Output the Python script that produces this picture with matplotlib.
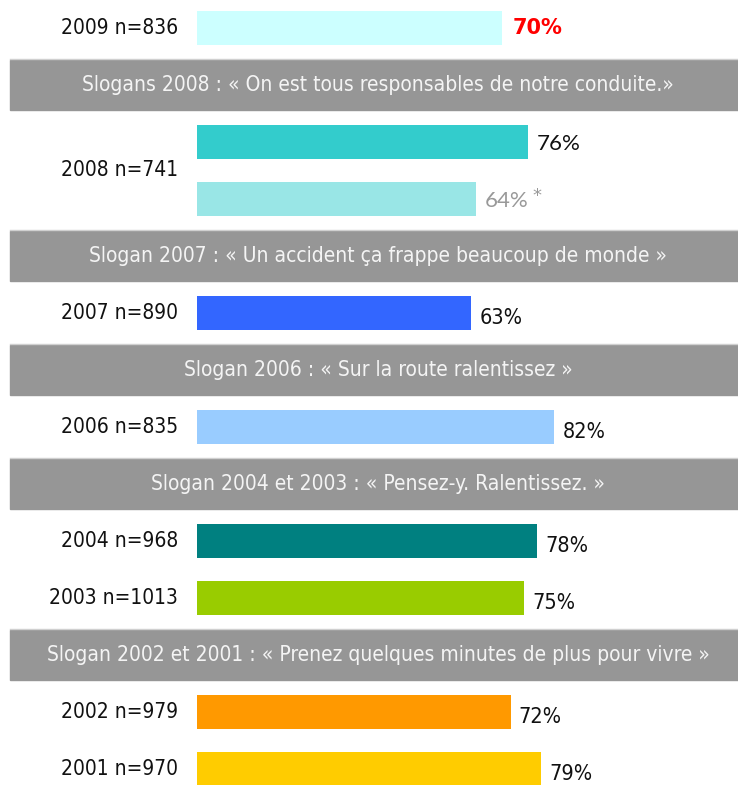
import matplotlib.pyplot as plt
from matplotlib import font_manager

# values (percent)
bar_values = [70, 76, 64, 63, 82, 78, 75, 72, 79]
bar_colors = ["#ccffff", "#33cccc", "#99e6e6", "#3366ff", "#99ccff",
              "#008080", "#99cc00", "#ff9900", "#ffcc00"]
year_labels = ["2009 n=836", "2008 n=741", "2007 n=890", "2006 n=835",
               "2004 n=968", "2003 n=1013", "2002 n=979", "2001 n=970"]
label_bars = [[0], [1, 2], [3], [4], [5], [6], [7], [8]]
slogans = [
    "Slogans 2008 : « On est tous responsables de notre conduite.»",
    "Slogan 2007 : « Un accident ça frappe beaucoup de monde »",
    "Slogan 2006 : « Sur la route ralentissez »",
    "Slogan 2004 et 2003 : « Pensez-y. Ralentissez. »",
    "Slogan 2002 et 2001 : « Prenez quelques minutes de plus pour vivre »",
]

# row order from top: B = bar, H = slogan header
layout = "BHBBHBHBHBBHBB"

condensed = any("Condensed" in f.fname for f in font_manager.fontManager.ttflist
                if f.name == "DejaVu Sans")
narrow = dict(family=["DejaVu Sans"], stretch="condensed" if condensed else "normal")
scale = 1.0 if condensed else 0.9

fig = plt.figure(figsize=(7.38, 7.85), dpi=100)
ax = fig.add_axes([0, 0, 1, 1])
ax.set_xlim(-197 / 4.355, 541 / 4.355)
ax.set_ylim(13.28, -0.49)
ax.axis("off")

bar_y, head_y = [], []
for i, kind in enumerate(layout):
    (bar_y if kind == "B" else head_y).append(i)

ax.barh(bar_y, bar_values, height=0.6, color=bar_colors, left=0)

for y, txt in zip(head_y, slogans):
    ax.axhspan(y - 0.44, y + 0.44, xmin=10 / 738, xmax=1, color="#969696", zorder=0)
    ax.axhline(y - 0.45, xmin=10 / 738, xmax=1, color="#d0d0d0", lw=1)
    ax.text((378 - 197) / 4.355, y, txt, ha="center", va="center",
            color="#f4f4f4", fontsize=15 * scale, **narrow)

for lab, idx in zip(year_labels, label_bars):
    y = sum(bar_y[k] for k in idx) / len(idx)
    ax.text(-4.4, y, lab, ha="right", va="center", fontsize=15 * scale,
            color="#111111", **narrow)

for k, (y, v) in enumerate(zip(bar_y, bar_values)):
    if k == 0:
        ax.text(v + 2.4, y, f"{v}%", ha="left", va="center", fontsize=15,
                fontweight="bold", color="#ff0000", family=["DejaVu Sans"])
    elif k == 1:
        ax.text(v + 2.1, y + 0.03, f"{v}%", ha="left", va="center", fontsize=16,
                color="#111111", family=["Lato", "DejaVu Sans"])
    elif k == 2:
        t = ax.text(v + 2.1, y + 0.03, f"{v}%", ha="left", va="center", fontsize=16,
                    color="#999999", family=["Lato", "DejaVu Sans"])
        ax.annotate("*", xy=(1, 1), xycoords=t, xytext=(3, 3), textcoords="offset points",
                    ha="left", va="top", fontsize=13, color="#999999",
                    family=["DejaVu Sans"])
    else:
        ax.text(v + 1.9, y + 0.08, f"{v}%", ha="left", va="center", fontsize=15.5 * scale,
                color="#111111", **narrow)

fig.savefig("out.png", dpi=100)
